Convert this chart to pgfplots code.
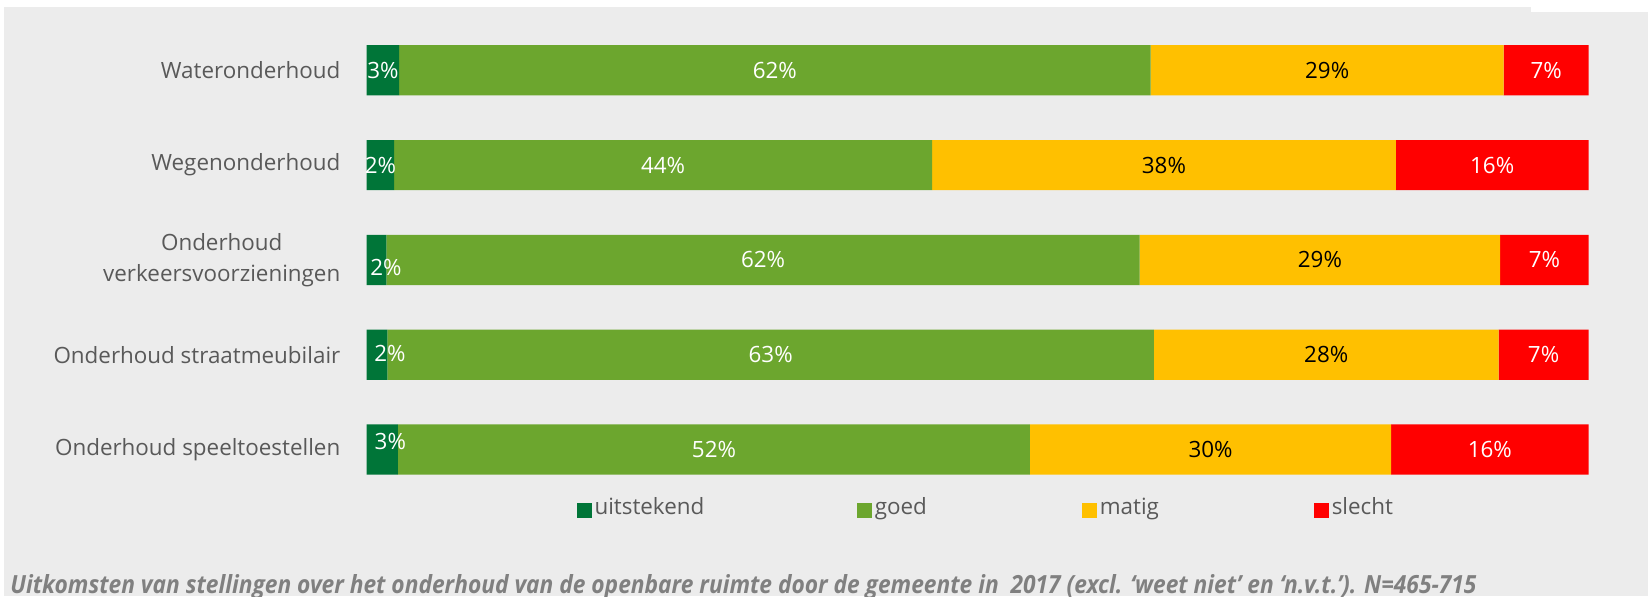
\documentclass[border=0pt]{standalone}
\usepackage{fontspec}
\setmainfont{Open Sans}
\newfontfamily\capfont[FakeStretch=0.91]{Open Sans}
\usepackage{pgfplots}
\pgfplotsset{compat=1.18}
\usepackage{pgfplotstable}

\definecolor{bg}{HTML}{ECECEC}
\definecolor{c1}{HTML}{007538}
\definecolor{c2}{HTML}{6CA62E}
\definecolor{c3}{HTML}{FFC000}
\definecolor{c4}{HTML}{FF0000}
\definecolor{lbl}{HTML}{595959}
\definecolor{capgray}{HTML}{808080}

\newcommand\fs{\fontsize{11.2}{15.5}\selectfont}

% rows top to bottom: 0 Water, 1 Wegen, 2 verkeersvoorz., 3 straatmeubilair, 4 speeltoestellen
\pgfplotstableread{
x y lab dx dy
2.65 0 3 0 0
2.24 1 2 0 0
1.61 2 2 4.7 -4
1.69 3 2 6.5 0.8
2.56 4 3 4 3.9
}\tuit
\pgfplotstableread{
x y lab dx dy
61.51 0 62 0 0
44.03 1 44 0 0
61.65 2 62 0 0
62.74 3 63 0 0
51.72 4 52 0 0
}\tgoed
\pgfplotstableread{
x y lab dx dy
28.89 0 29 0 0
37.95 1 38 0 0
29.50 2 29 0 0
28.20 3 28 0 0
29.56 4 30 0 0
}\tmatig
\pgfplotstableread{
x y lab dx dy
6.95 0 7 0 0
15.78 1 16 0 0
7.24 2 7 0 0
7.37 3 7 0 0
16.16 4 16 0 0
}\tslecht

\pgfplotsset{sq/.style={draw=none,
  legend image code/.code={\fill[##1] (0pt,-5pt) rectangle (7.5pt,2.5pt);}}}

\begin{document}
\begin{tikzpicture}
\useasboundingbox (0,0) rectangle (824pt,298pt);
\fill[bg] (1.9pt,0) rectangle (824pt,294.65pt);
\fill[white] (765.5pt,292.15pt) rectangle (824pt,294.65pt);
\begin{axis}[
  at={(183.35pt,49.55pt)}, anchor=south west,
  scale only axis, width=610.95pt, height=237pt,
  xbar stacked, bar width=25.1pt,
  xmin=0, xmax=100, ymin=-0.5, ymax=4.5, y dir=reverse,
  axis x line=none,
  axis y line*=left, y axis line style={draw=none},
  ytick={0,...,4}, major tick length=0pt,
  yticklabels={Wateronderhoud,Wegenonderhoud,{Onderhoud\\verkeersvoorzieningen},Onderhoud straatmeubilair,Onderhoud speeltoestellen},
  yticklabel style={align=center, text=lbl, font=\fs, inner sep=0pt, xshift=-13pt},
  point meta=explicit symbolic,
  nodes near coords={\pgfplotspointmeta\%},
  visualization depends on={\thisrow{dx} \as \ldx},
  visualization depends on={\thisrow{dy} \as \ldy},
  every node near coord/.append style={anchor=center, inner sep=0pt, font=\fs,
    xshift={\ldx*1pt}, yshift={\ldy*1pt}},
  legend columns=4,
  legend style={at={(axis description cs:0.1717,-0.02236)}, anchor=west,
    draw=none, fill=none, inner sep=0pt, outer sep=0pt, font=\fs, text=lbl,
    nodes={inner sep=0.75pt},
    /tikz/every odd column/.style={column sep=0.75pt},
    /tikz/every even column/.style={column sep=0pt}},
]
\addplot[sq, fill=c1, every node near coord/.append style={text=white}] table[x=x, y=y, meta=lab] {\tuit};
\addlegendentry{\makebox[130.4pt][l]{uitstekend}}
\addplot[sq, fill=c2, every node near coord/.append style={text=white}] table[x=x, y=y, meta=lab] {\tgoed};
\addlegendentry{\makebox[102.75pt][l]{goed}}
\addplot[sq, fill=c3, every node near coord/.append style={text=black}] table[x=x, y=y, meta=lab] {\tmatig};
\addlegendentry{\makebox[106.25pt][l]{matig}}
\addplot[sq, fill=c4, every node near coord/.append style={text=white}] table[x=x, y=y, meta=lab] {\tslecht};
\addlegendentry{slecht}
\end{axis}
\node[anchor=base west, inner sep=0pt, text=capgray,
  font=\capfont\bfseries\itshape\fontsize{12.5}{14}\selectfont] at (5pt,1.35pt)
  {Uitkomsten van stellingen over het onderhoud van de openbare ruimte door de gemeente in\ \ 2017 (excl. ‘weet niet’ en ‘n.v.t.’). N=465-715};
\end{tikzpicture}
\end{document}
